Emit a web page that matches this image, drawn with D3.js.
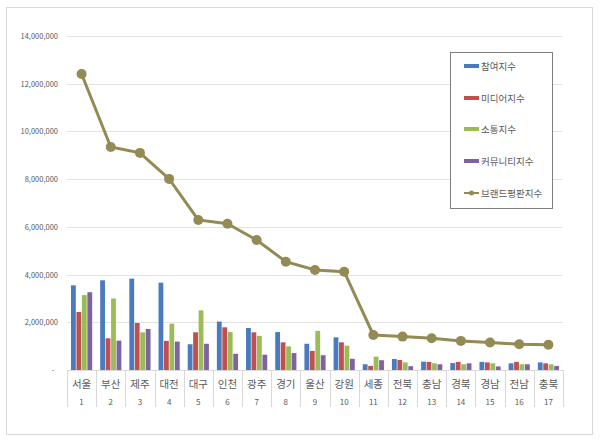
<!DOCTYPE html>
<html>
<head>
<meta charset="utf-8">
<script src="https://cdn.jsdelivr.net/npm/d3@7"></script>
<style>
  body { margin: 0; background: #fff; }
  text { font-family: "Noto Sans CJK KR", "Noto Sans", sans-serif; fill: #595959; }
</style>
</head>
<body>
<svg id="chart" width="600" height="442"></svg>
<script>
var regions = ["서울", "부산", "제주", "대전", "대구", "인천", "광주", "경기", "울산", "강원",
               "세종", "전북", "충남", "경북", "경남", "전남", "충북"]
var ranks = d3.range(1, 18)

var participation = [3550000, 3760000, 3830000, 3660000, 1080000, 2030000, 1760000, 1590000, 1100000, 1370000,
                     240000, 460000, 350000, 290000, 340000, 280000, 320000]
var media = [2430000, 1330000, 1970000, 1220000, 1580000, 1790000, 1580000, 1160000, 800000, 1160000,
             170000, 420000, 340000, 340000, 320000, 340000, 280000]
var communication = [3140000, 3000000, 1580000, 1940000, 2500000, 1590000, 1430000, 990000, 1640000, 1020000,
                     560000, 320000, 280000, 240000, 280000, 240000, 240000]
var community = [3260000, 1230000, 1720000, 1190000, 1100000, 680000, 640000, 710000, 620000, 470000,
                 410000, 160000, 240000, 280000, 150000, 240000, 170000]
var brandIndex = [12410000, 9350000, 9100000, 8010000, 6290000, 6130000, 5450000, 4540000, 4190000, 4120000,
                  1470000, 1400000, 1330000, 1220000, 1150000, 1080000, 1060000]
var yTicks = [0, 2000000, 4000000, 6000000, 8000000, 10000000, 12000000, 14000000]

var seriesNames = ["참여지수", "미디어지수", "소통지수", "커뮤니티지수", "브랜드평판지수"]
var colors = ["#4a7bbf", "#c0504d", "#9bbb59", "#7f62a1", "#948a54"]

var svg = d3.select("#chart")

// outer frame
svg.append("rect")
    .attr("x", 6.5).attr("y", 7.5)
    .attr("width", 586).attr("height", 427)
    .attr("fill", "#fff")
    .attr("stroke", "#d9d9d9");

var plotLeft = 67, plotRight = 563, plotTop = 36, plotBottom = 370;

var x = d3.scaleBand().domain(d3.range(17)).range([plotLeft, plotRight]);
var y = d3.scaleLinear().domain([0, 14000000]).range([plotBottom, plotTop]);

// gridlines
svg.append("g")
    .selectAll("line")
    .data(yTicks.slice(1))
    .enter().append("line")
    .attr("x1", plotLeft).attr("x2", plotRight)
    .attr("y1", function(d) { return Math.round(y(d)) + 0.5; })
    .attr("y2", function(d) { return Math.round(y(d)) + 0.5; })
    .attr("stroke", "#e3e3e3");

// y labels
svg.append("g")
    .selectAll("text")
    .data(yTicks)
    .enter().append("text")
    .attr("x", function(d) { return d === 0 ? 54 : 58; })
    .attr("y", function(d) { return y(d) + 3; })
    .attr("text-anchor", "end")
    .style("font-size", "7.5px")
    .text(function(d) { return d === 0 ? "-" : d3.format(",")(d); });

// bars
var bars = [participation, media, communication, community];
var inner = d3.scaleBand().domain(d3.range(4)).range([4, x.bandwidth() - 4]).paddingInner(0.12);

bars.forEach(function(values, s) {
    svg.append("g")
        .selectAll("rect")
        .data(values)
        .enter().append("rect")
        .attr("x", function(d, i) { return x(i) + inner(s); })
        .attr("y", function(d) { return y(d); })
        .attr("width", inner.bandwidth())
        .attr("height", function(d) { return plotBottom - y(d); })
        .attr("fill", colors[s]);
});

// category axis
var axis = svg.append("g");
axis.append("line")
    .attr("x1", plotLeft).attr("x2", plotRight)
    .attr("y1", plotBottom + 0.5).attr("y2", plotBottom + 0.5)
    .attr("stroke", "#d9d9d9");
axis.selectAll("line.sep")
    .data(d3.range(18))
    .enter().append("line")
    .attr("class", "sep")
    .attr("x1", function(d) { return Math.round(plotLeft + d * x.step()) + 0.5; })
    .attr("x2", function(d) { return Math.round(plotLeft + d * x.step()) + 0.5; })
    .attr("y1", plotBottom).attr("y2", 407)
    .attr("stroke", "#d9d9d9");
axis.selectAll("text.name")
    .data(regions)
    .enter().append("text")
    .attr("class", "name")
    .attr("x", function(d, i) { return x(i) + x.bandwidth() / 2; })
    .attr("y", 388)
    .attr("text-anchor", "middle")
    .style("font-size", "10.5px")
    .text(function(d) { return d; });
axis.selectAll("text.rank")
    .data(ranks)
    .enter().append("text")
    .attr("class", "rank")
    .attr("x", function(d, i) { return x(i) + x.bandwidth() / 2; })
    .attr("y", 405)
    .attr("text-anchor", "middle")
    .style("font-size", "8px")
    .text(function(d) { return d; });

// brand index line
var line = d3.line()
    .x(function(d, i) { return x(i) + x.bandwidth() / 2; })
    .y(function(d) { return y(d); });

svg.append("path")
    .datum(brandIndex)
    .attr("d", line)
    .attr("fill", "none")
    .attr("stroke", colors[4])
    .attr("stroke-width", 3);

svg.append("g")
    .selectAll("circle")
    .data(brandIndex)
    .enter().append("circle")
    .attr("cx", function(d, i) { return x(i) + x.bandwidth() / 2; })
    .attr("cy", function(d) { return y(d); })
    .attr("r", 5)
    .attr("fill", colors[4]);

// legend
var legend = svg.append("g");
legend.append("rect")
    .attr("x", 450.5).attr("y", 52.5)
    .attr("width", 102).attr("height", 156)
    .attr("fill", "#fff")
    .attr("stroke", "#7f7f7f");

var legendY = [66, 98, 129, 161, 193];
seriesNames.forEach(function(name, i) {
    var g = legend.append("g").attr("transform", "translate(464," + legendY[i] + ")");
    if (i < 4) {
        g.append("rect")
            .attr("x", 0).attr("y", -2)
            .attr("width", 15).attr("height", 4)
            .attr("fill", colors[i]);
    } else {
        g.append("line")
            .attr("x1", 0).attr("x2", 15)
            .attr("y1", 0).attr("y2", 0)
            .attr("stroke", colors[i])
            .attr("stroke-width", 2);
        g.append("circle")
            .attr("cx", 7.5).attr("cy", 0).attr("r", 2.5)
            .attr("fill", colors[i]);
    }
    g.append("text")
        .attr("x", 17).attr("y", 3.5)
        .style("font-size", "9.5px")
        .text(name);
});
</script>
</body>
</html>
